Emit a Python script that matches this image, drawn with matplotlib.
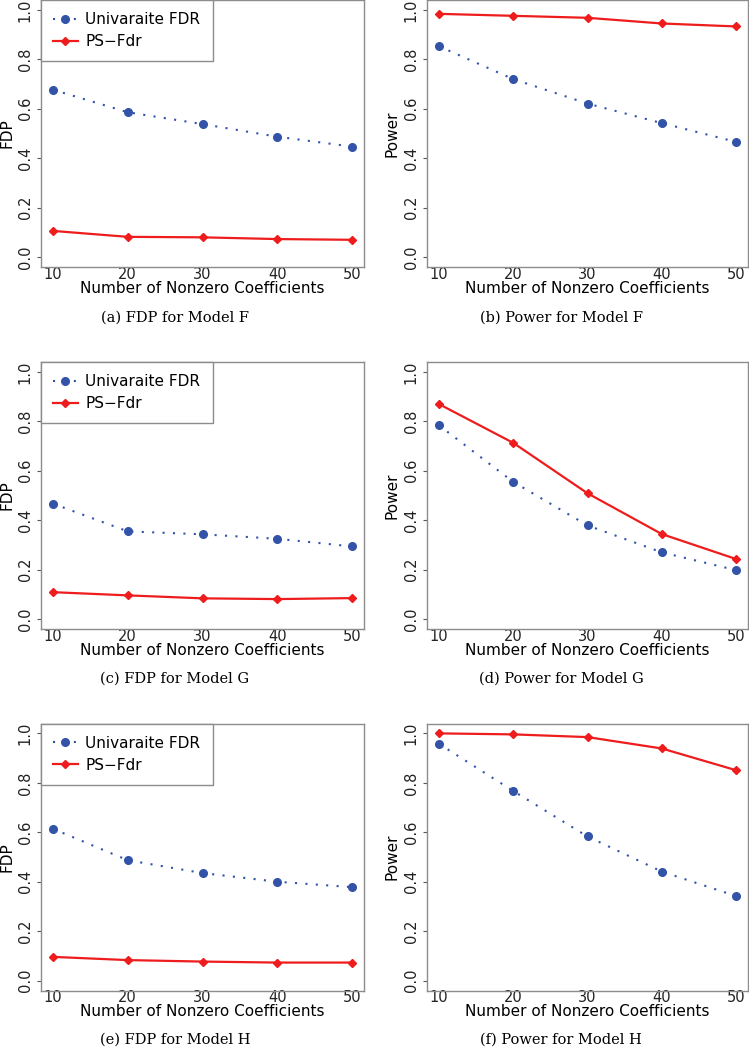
#!/usr/bin/env python3
"""FDP and power of univariate FDR vs PS-Fdr for models F, G and H."""

import matplotlib

matplotlib.use("Agg")
import matplotlib.pyplot as plt

n_nonzero = [10, 20, 30, 40, 50]

# FDP panels (left column)
fdp_univ_f = [0.677, 0.586, 0.538, 0.487, 0.447]
fdp_ps_f = [0.106, 0.082, 0.080, 0.073, 0.070]
fdp_univ_g = [0.467, 0.355, 0.343, 0.325, 0.294]
fdp_ps_g = [0.109, 0.096, 0.084, 0.081, 0.085]
fdp_univ_h = [0.614, 0.487, 0.435, 0.400, 0.378]
fdp_ps_h = [0.096, 0.083, 0.077, 0.073, 0.073]

# Power panels (right column)
pow_univ_f = [0.853, 0.720, 0.621, 0.542, 0.466]
pow_ps_f = [0.984, 0.976, 0.968, 0.945, 0.933]
pow_univ_g = [0.784, 0.555, 0.379, 0.270, 0.198]
pow_ps_g = [0.870, 0.713, 0.509, 0.344, 0.243]
pow_univ_h = [0.958, 0.767, 0.583, 0.441, 0.342]
pow_ps_h = [1.000, 0.996, 0.985, 0.939, 0.851]

captions = [
    "(a) FDP for Model F", "(b) Power for Model F",
    "(c) FDP for Model G", "(d) Power for Model G",
    "(e) FDP for Model H", "(f) Power for Model H",
]
yticks = [0.0, 0.2, 0.4, 0.6, 0.8, 1.0]

BLUE = "#3253a8"
RED = "#ee1c1c"
FRAME = "#8c8c8c"
SANS = "DejaVu Sans"
FS = 10.5

W, H = 749, 1050
fig = plt.figure(figsize=(W / 100, H / 100), dpi=100)

cols = [(41, 364), (427, 748)]
rows = [(0, 267), (362, 629), (723.5, 990.5)]
caption_y = [318, 679, 1040]
caption_x = [175, 561]
ylabel_right = [15, 400]  # pixel x of the y-label's inner edge

panels = [
    (fdp_univ_f, fdp_ps_f, "FDP", True),
    (pow_univ_f, pow_ps_f, "Power", False),
    (fdp_univ_g, fdp_ps_g, "FDP", True),
    (pow_univ_g, pow_ps_g, "Power", False),
    (fdp_univ_h, fdp_ps_h, "FDP", True),
    (pow_univ_h, pow_ps_h, "Power", False),
]

for i, (univ, ps, ylabel, with_legend) in enumerate(panels):
    r, c = divmod(i, 2)
    x0, x1 = cols[c]
    top, bot = rows[r]
    ax = fig.add_axes([x0 / W, 1 - bot / H, (x1 - x0) / W, (bot - top) / H])

    ax.plot(n_nonzero, univ, color=BLUE, linestyle=(0, (1, 4)), linewidth=1.5,
            marker="o", markersize=5.5, label="Univaraite FDR")
    ax.plot(n_nonzero, ps, color=RED, linewidth=1.6,
            marker="D", markersize=3.8, label="PS\u2212Fdr")

    ax.set_xlim(8.4, 51.6)
    ax.set_ylim(-0.04, 1.04)
    ax.set_xticks(n_nonzero)
    ax.set_yticks(yticks)
    ax.set_yticklabels([f"{v:.1f}" for v in yticks], rotation=90, va="center")
    for lab in ax.get_xticklabels() + ax.get_yticklabels():
        lab.set_fontfamily(SANS)
        lab.set_fontsize(FS)
        lab.set_color("#222222")
    ax.tick_params(axis="x", length=0, pad=0)
    ax.tick_params(axis="y", length=3, pad=3, color="#555555")
    for sp in ax.spines.values():
        sp.set_color(FRAME)
        sp.set_linewidth(1.0)

    ax.set_xlabel("Number of Nonzero Coefficients", fontfamily=SANS,
                  fontsize=FS + 0.5, labelpad=-1)
    ax.set_ylabel(ylabel, fontfamily=SANS, fontsize=FS + 0.5)
    ax.yaxis.set_label_coords((ylabel_right[c] - x0) / (x1 - x0), 0.5)

    if with_legend:
        leg = ax.legend(loc="upper left", bbox_to_anchor=(0, 1), borderaxespad=0,
                        fancybox=False, framealpha=1, edgecolor=FRAME,
                        prop={"family": SANS, "size": FS + 0.5}, handlelength=1.6,
                        handletextpad=0.5, borderpad=0.8, labelspacing=0.45)
        leg.get_frame().set_linewidth(1.0)

    fig.text(caption_x[c] / W, 1 - caption_y[r] / H, captions[i],
             family="DejaVu Serif", fontsize=10.5, ha="center", va="center")

fig.savefig("out.png", dpi=100)
